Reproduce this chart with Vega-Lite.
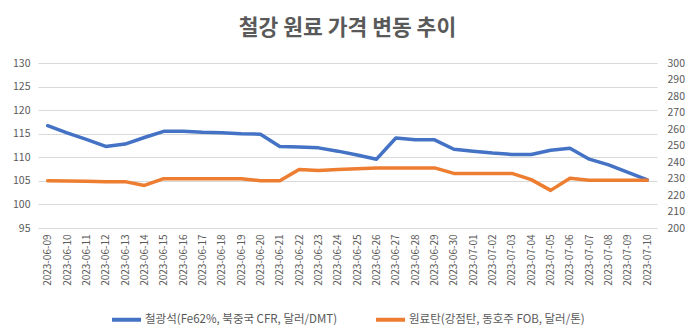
{
  "$schema": "https://vega.github.io/schema/vega-lite/v6.json",
  "width": 619,
  "height": 165,
  "autosize": {"type": "none"},
  "padding": {"left": 38, "top": 63, "right": 39, "bottom": 104},
  "background": "white",
  "title": {
    "text": "철강 원료 가격 변동 추이",
    "font": "Noto Sans CJK KR",
    "fontSize": 21.5,
    "fontWeight": "bold",
    "color": "#595959",
    "anchor": "middle",
    "offset": 19
  },
  "data": {
    "values": [
      {"date": "2023-06-09", "iron": 116.7, "coal": 228.7},
      {"date": "2023-06-10", "iron": 115.2, "coal": 228.5},
      {"date": "2023-06-11", "iron": 113.8, "coal": 228.3},
      {"date": "2023-06-12", "iron": 112.3, "coal": 228.1},
      {"date": "2023-06-13", "iron": 112.8, "coal": 228.1},
      {"date": "2023-06-14", "iron": 114.2, "coal": 225.8},
      {"date": "2023-06-15", "iron": 115.5, "coal": 229.9},
      {"date": "2023-06-16", "iron": 115.5, "coal": 229.9},
      {"date": "2023-06-17", "iron": 115.3, "coal": 229.9},
      {"date": "2023-06-18", "iron": 115.2, "coal": 229.9},
      {"date": "2023-06-19", "iron": 115.0, "coal": 229.9},
      {"date": "2023-06-20", "iron": 114.9, "coal": 228.7},
      {"date": "2023-06-21", "iron": 112.3, "coal": 228.7},
      {"date": "2023-06-22", "iron": 112.2, "coal": 235.5},
      {"date": "2023-06-23", "iron": 112.0, "coal": 234.9},
      {"date": "2023-06-24", "iron": 111.3, "coal": 235.4},
      {"date": "2023-06-25", "iron": 110.5, "coal": 235.9},
      {"date": "2023-06-26", "iron": 109.6, "coal": 236.3},
      {"date": "2023-06-27", "iron": 114.1, "coal": 236.4},
      {"date": "2023-06-28", "iron": 113.7, "coal": 236.4},
      {"date": "2023-06-29", "iron": 113.7, "coal": 236.4},
      {"date": "2023-06-30", "iron": 111.7, "coal": 233.1},
      {"date": "2023-07-01", "iron": 111.3, "coal": 233.1},
      {"date": "2023-07-02", "iron": 110.9, "coal": 233.1},
      {"date": "2023-07-03", "iron": 110.6, "coal": 233.1},
      {"date": "2023-07-04", "iron": 110.6, "coal": 229.3},
      {"date": "2023-07-05", "iron": 111.5, "coal": 222.8},
      {"date": "2023-07-06", "iron": 111.9, "coal": 230.1},
      {"date": "2023-07-07", "iron": 109.6, "coal": 228.9},
      {"date": "2023-07-08", "iron": 108.4, "coal": 228.9},
      {"date": "2023-07-09", "iron": 106.8, "coal": 228.9},
      {"date": "2023-07-10", "iron": 105.2, "coal": 228.9}
    ]
  },
  "encoding": {
    "x": {
      "field": "date",
      "type": "ordinal",
      "sort": null,
      "scale": {"type": "point", "padding": 0.5},
      "axis": {
        "title": null,
        "labelAngle": -90,
        "labelFont": "Noto Sans CJK KR",
        "labelFontSize": 10,
        "labelColor": "#595959",
        "labelPadding": 6,
        "ticks": false,
        "domain": false,
        "grid": false
      }
    }
  },
  "layer": [
    {
      "mark": {"type": "line", "strokeWidth": 3.5, "strokeCap": "round", "strokeJoin": "round"},
      "encoding": {
        "y": {
          "field": "iron",
          "type": "quantitative",
          "scale": {"domain": [95, 130], "nice": false, "zero": false},
          "axis": {
            "title": null,
            "orient": "left",
            "values": [95, 100, 105, 110, 115, 120, 125, 130],
            "labelFont": "Noto Sans CJK KR",
            "labelFontSize": 10.5,
            "labelColor": "#595959",
            "labelPadding": 8,
            "ticks": false,
            "domain": false,
            "grid": true,
            "gridColor": "#d9d9d9",
            "gridWidth": 1
          }
        },
        "color": {"datum": "철광석(Fe62%, 북중국 CFR, 달러/DMT)"}
      }
    },
    {
      "mark": {"type": "line", "strokeWidth": 3.5, "strokeCap": "round", "strokeJoin": "round"},
      "encoding": {
        "y": {
          "field": "coal",
          "type": "quantitative",
          "scale": {"domain": [200, 300], "nice": false, "zero": false},
          "axis": {
            "title": null,
            "orient": "right",
            "values": [200, 210, 220, 230, 240, 250, 260, 270, 280, 290, 300],
            "labelFont": "Noto Sans CJK KR",
            "labelFontSize": 10.5,
            "labelColor": "#595959",
            "labelPadding": 10,
            "ticks": false,
            "domain": false,
            "grid": false
          }
        },
        "color": {"datum": "원료탄(강점탄, 동호주 FOB, 달러/톤)"}
      }
    }
  ],
  "resolve": {"scale": {"y": "independent"}},
  "config": {
    "view": {"stroke": null},
    "range": {"category": ["#4472C4", "#ED7D31"]},
    "legend": {
      "orient": "none",
      "legendX": 72,
      "legendY": 240,
      "direction": "horizontal",
      "title": null,
      "symbolType": "stroke",
      "symbolSize": 841,
      "symbolStrokeWidth": 4,
      "labelFont": "Noto Sans CJK KR",
      "labelFontSize": 11.5,
      "labelColor": "#595959",
      "labelOffset": 2,
      "columnPadding": 30,
      "labelLimit": 400
    }
  }
}
